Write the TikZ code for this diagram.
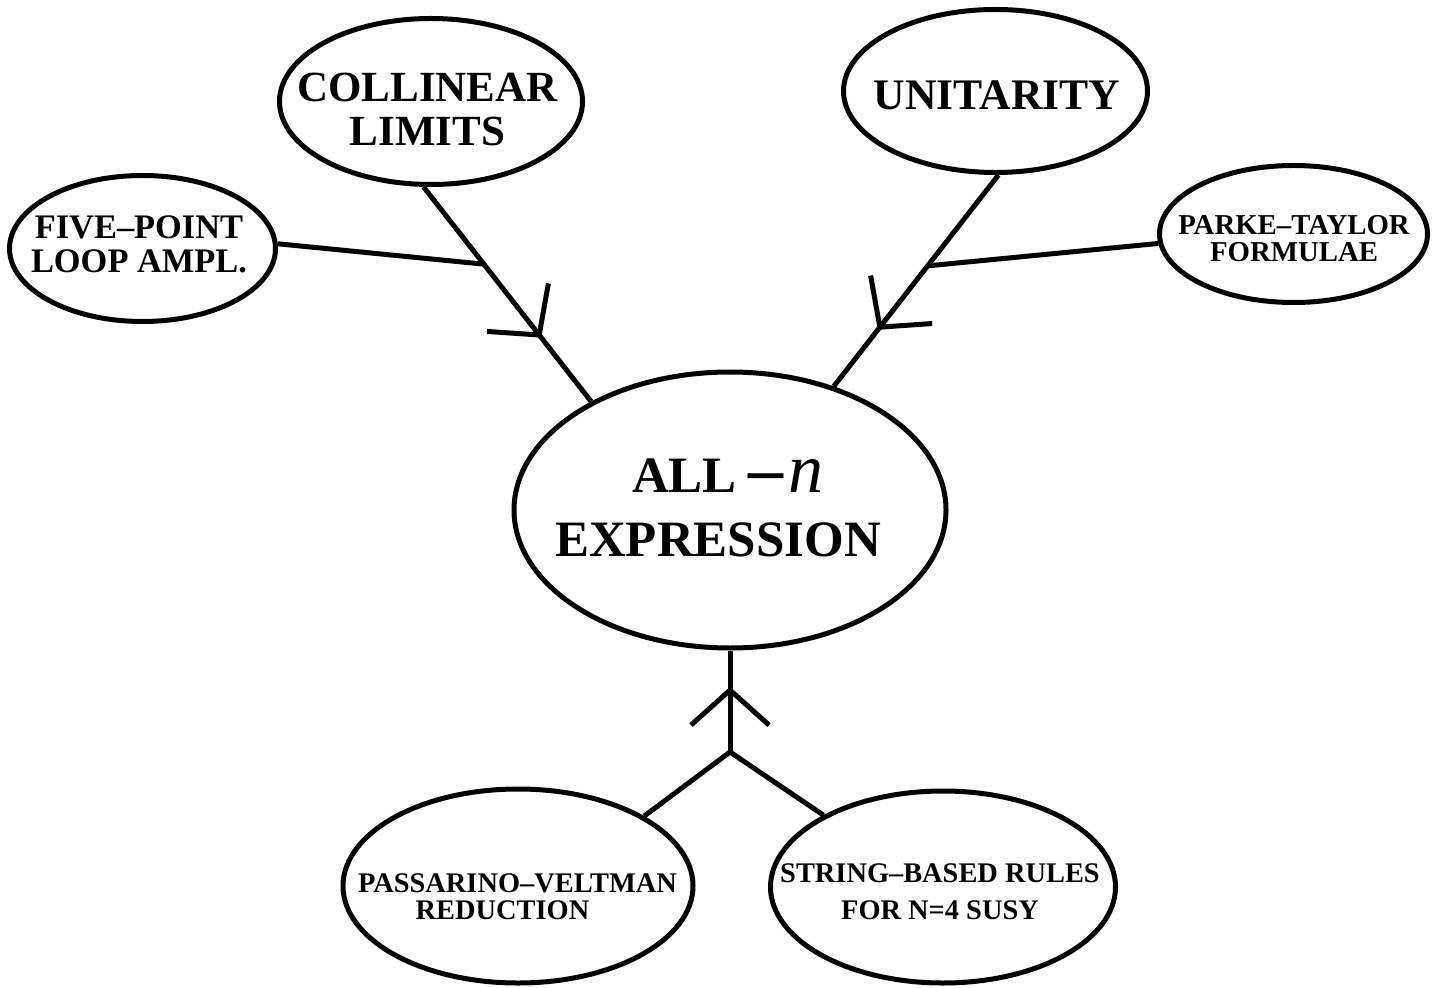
\documentclass[tikz,border=0pt]{standalone}
\usepackage{fontspec}
\setmainfont{Liberation Serif}
\usetikzlibrary{shapes.geometric,decorations.markings}

\begin{document}
\begin{tikzpicture}[x=0.5pt,y=-0.5pt,
              bubble/.style={draw, ellipse, line width=2.5pt, inner sep=0pt},
              lbl/.style 2 args={align=center, inner sep=0pt, font=\fontsize{#1}{#2}\selectfont\bfseries},
              link/.style={line width=2.5pt},
              barb/.style={postaction={decorate, decoration={markings,
                  mark=at position #1 with {\draw[link] (-35,39) -- (0,0) -- (-35,-39);}}}},
             ]
\useasboundingbox (0,0) rectangle (1443,988);

\node[bubble, minimum width=151.5pt, minimum height=83pt] (coll) at (431,101.5) {};
\node[bubble, minimum width=152pt, minimum height=81.5pt] (unit) at (995.5,91) {};
\node[bubble, minimum width=133pt, minimum height=73pt] (five) at (142.5,248.5) {};
\node[bubble, minimum width=134pt, minimum height=68.5pt] (parke) at (1293.5,234) {};
\node[bubble, minimum width=216pt, minimum height=138pt] (all) at (730,510) {};
\node[bubble, minimum width=175pt, minimum height=97pt] (pass) at (518,886) {};
\node[bubble, minimum width=172.5pt, minimum height=96pt] (str) at (943,887) {};

\node[lbl={21.5}{22}] (colltxt) at (427.5,109.5) {COLLINEAR\\LIMITS};
\node[lbl={21.8}{22}] (unittxt) at (997,95) {UNITARITY};
\node[lbl={17.2}{17}] (fivetxt) at (139,244.5) {FIVE--POINT\\LOOP AMPL.};
\node[lbl={14.4}{13.5}] (parketxt) at (1294,238.5) {PARKE--TAYLOR\\FORMULAE};
\node[lbl={25.5}{32}] (alltxt) at (718,507.5)
  {\hspace*{10pt}ALL\hspace{6pt}{\fontsize{35}{35}\selectfont--\hspace{2.5pt}\mdseries\itshape n}\\EXPRESSION};
\node[lbl={14.2}{13.5}] (passtxt) at (517.5,896.5) {PASSARINO--VELTMAN\\REDUCTION\hspace*{15pt}};
\node[lbl={14.2}{18.5}] (strtxt) at (940,891.5) {STRING--BASED RULES\\FOR N=4 SUSY};

\draw[link, barb=0.69] (coll.-95) -- coordinate[pos=0.36] (j1) (all.142);
\draw[link] (five.2) -- (j1);
\draw[link, barb=0.72] (unit.-88) -- coordinate[pos=0.43] (j2) (all.50);
\draw[link] (parke.184) -- (j2);
\coordinate (jb) at (730,752);
\draw[link, barb=0.61] (jb) -- (all.south);
\draw[link] (pass.29) -- (jb) -- (str.149);
\end{tikzpicture}
\end{document}
